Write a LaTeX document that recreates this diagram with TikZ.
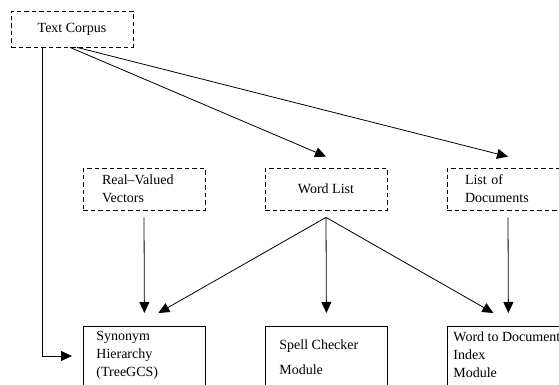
\documentclass[tikz,border=0pt]{standalone}
\usepackage{fontspec}
\setmainfont{Liberation Serif}
\usetikzlibrary{arrows.meta}

\begin{document}
\begin{tikzpicture}[x=1pt,y=-1pt,line width=0.8pt,
  every node/.style={font=\fontsize{14}{18}\selectfont},
  databox/.style={draw,dash pattern=on 4.5pt off 3pt,minimum width=122pt,inner sep=0pt},
  modbox/.style={draw,minimum width=122pt,minimum height=80pt,anchor=north west,inner sep=0pt},
  modtext/.style={anchor=base west,align=left,inner sep=0pt},
  flow/.style={-{Triangle[length=11pt,width=10pt]}}]
 \useasboundingbox (0,0) rectangle (559,385);
 \clip (0,0) rectangle (559,385);
 % sources
 \node[databox,minimum height=36pt] (corpus) at (72,29) {Text Corpus};
 \node[databox,minimum height=42pt,text width=84pt,align=left] (vectors) at (144,189) {Real--Valued\\Vectors};
 \node[databox,minimum height=42pt,align=center] (words) at (326,189) {Word List};
 \node[databox,minimum height=42pt,text width=86pt,align=left] (docs) at (508,189) {List of\\Documents};
 % modules
 \node[modbox] (syn) at (83,326) {};
 \node[modbox] (spell) at (265,326) {};
 \node[modbox] (index) at (447,326) {};
 \node[modtext] (synT) at (96,376) {Synonym\\Hierarchy\\(TreeGCS)};
 \node[modtext] (spellT) at (279,374) {Spell Checker\\[7pt]Module};
 \node[modtext] (indexT) at (453,377) {Word to Document\\Index\\Module};
 % connectors
 \draw[flow] ([xshift=-2pt]corpus.south) -- ([yshift=11pt]words.north);
 \draw[flow] ([xshift=5pt]corpus.south) -- ([yshift=11pt]docs.north);
 \draw[flow] ([xshift=-30pt]corpus.south) |- ([shift={(-11pt,-30pt)}]syn.north west);
 \draw[flow] ([yshift=-7pt]vectors.south) -- ([yshift=13pt]syn.north);
 \draw[flow] ([yshift=-7pt]words.south) -- ([shift={(14pt,13pt)}]syn.north);
 \draw[flow] ([yshift=-7pt]words.south) -- ([yshift=13pt]spell.north);
 \draw[flow] ([yshift=-7pt]words.south) -- ([shift={(-15pt,13pt)}]index.north);
 \draw[flow] ([yshift=-7pt]docs.south) -- ([yshift=13pt]index.north);
\end{tikzpicture}
\end{document}
